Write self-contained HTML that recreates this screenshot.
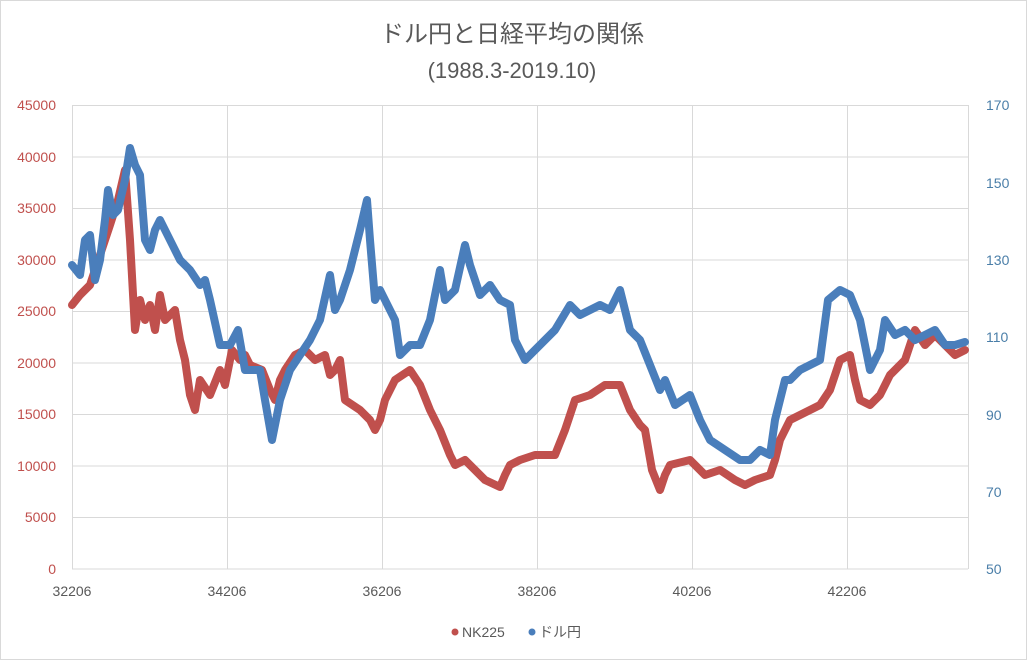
<!DOCTYPE html>
<html><head><meta charset="utf-8"><style>
body{margin:0;background:#fff;width:1027px;height:660px;overflow:hidden;font-family:"Liberation Sans","Noto Sans CJK JP",sans-serif}
</style></head><body>
<svg width="1027" height="660" xmlns="http://www.w3.org/2000/svg" style="font-family:'Liberation Sans','Noto Sans CJK JP',sans-serif">
<rect x="0.5" y="0.5" width="1026" height="659" fill="#fff" stroke="#d9d9d9"/>
<text x="512" y="42" text-anchor="middle" font-size="24" fill="#595959">ドル円と日経平均の関係</text>
<text x="512" y="78" text-anchor="middle" font-size="22" fill="#595959">(1988.3-2019.10)</text>
<g stroke="#d9d9d9" stroke-width="1">
<line x1="72" y1="105.5" x2="968" y2="105.5"/><line x1="72" y1="157" x2="968" y2="157"/><line x1="72" y1="208.5" x2="968" y2="208.5"/><line x1="72" y1="260" x2="968" y2="260"/><line x1="72" y1="311.5" x2="968" y2="311.5"/><line x1="72" y1="363" x2="968" y2="363"/><line x1="72" y1="414.5" x2="968" y2="414.5"/><line x1="72" y1="466" x2="968" y2="466"/><line x1="72" y1="517.5" x2="968" y2="517.5"/><line x1="72" y1="569" x2="968" y2="569"/>
<line x1="72.5" y1="105" x2="72.5" y2="569"/><line x1="227.5" y1="105" x2="227.5" y2="569"/><line x1="382.5" y1="105" x2="382.5" y2="569"/><line x1="537.5" y1="105" x2="537.5" y2="569"/><line x1="692.5" y1="105" x2="692.5" y2="569"/><line x1="847.5" y1="105" x2="847.5" y2="569"/><line x1="968.5" y1="105" x2="968.5" y2="569"/>
</g>
<g font-size="14" fill="#c0504d" text-anchor="end">
<text x="56" y="110">45000</text><text x="56" y="162">40000</text><text x="56" y="213">35000</text><text x="56" y="265">30000</text><text x="56" y="316">25000</text><text x="56" y="368">20000</text><text x="56" y="419">15000</text><text x="56" y="471">10000</text><text x="56" y="522">5000</text><text x="56" y="574">0</text>
</g>
<g font-size="14" fill="#4a7ea8">
<text x="986" y="110">170</text><text x="986" y="188">150</text><text x="986" y="265">130</text><text x="986" y="342">110</text><text x="986" y="420">90</text><text x="986" y="497">70</text><text x="986" y="574">50</text>
</g>
<g font-size="14" fill="#595959" text-anchor="middle">
<text x="72" y="596">32206</text><text x="227" y="596">34206</text><text x="382" y="596">36206</text><text x="537" y="596">38206</text><text x="692" y="596">40206</text><text x="847" y="596">42206</text>
</g>
<polyline fill="none" stroke="#c0504d" stroke-width="8" stroke-linejoin="round" stroke-linecap="round" points="72,305 80,295 90,285 100,255 110,225 118,200 125,170 130,240 135,330 140,300 145,320 150,305 155,330 160,295 165,320 175,310 180,340 185,360 190,395 195,410 200,380 210,395 220,370 225,385 232,350 240,360 245,355 250,365 262,370 270,390 275,400 280,380 285,370 295,355 305,350 315,360 325,355 330,375 335,370 340,360 345,400 360,410 370,420 375,430 380,420 385,400 395,380 410,370 420,385 430,410 440,430 450,455 455,465 465,460 470,465 485,480 500,487 505,475 510,465 520,460 535,455 555,455 565,430 575,400 590,395 605,385 620,385 630,410 640,425 645,430 652,470 660,490 665,475 670,465 690,460 705,475 720,470 735,480 745,485 755,480 770,475 775,460 780,440 790,420 800,415 810,410 820,405 830,390 840,360 850,355 855,380 860,400 870,405 880,395 890,375 905,360 915,330 925,345 935,335 945,345 955,355 965,350"/>
<polyline fill="none" stroke="#4a7ebb" stroke-width="8" stroke-linejoin="round" stroke-linecap="round" points="72,265 80,275 85,240 90,235 95,280 100,260 105,220 108,190 113,215 118,210 125,180 130,148 135,165 140,175 145,240 150,250 155,230 160,220 170,240 180,260 190,270 200,285 205,280 210,300 220,345 230,345 238,330 245,370 260,370 265,400 272,440 280,400 290,370 300,355 310,340 320,320 330,275 335,310 340,300 350,270 360,230 367,200 370,240 375,300 380,290 385,300 395,320 400,355 410,345 420,345 430,320 440,270 445,300 455,290 465,245 470,265 480,295 490,285 500,300 510,305 515,340 525,360 540,345 555,330 570,305 580,315 590,310 600,305 610,310 620,290 630,330 640,340 650,365 660,390 665,380 675,405 690,395 700,420 710,440 725,450 740,460 750,460 760,450 770,455 775,420 785,380 790,380 800,370 810,365 820,360 828,300 840,290 850,295 860,320 870,370 880,350 885,320 895,335 905,330 915,340 925,335 935,330 945,345 955,345 965,342"/>
<g font-size="14" fill="#595959">
<circle cx="455" cy="632" r="3.5" fill="#c0504d"/><text x="462" y="637">NK225</text>
<circle cx="532" cy="632" r="3.5" fill="#4a7ebb"/><text x="539" y="637">ドル円</text>
</g>
</svg>
</body></html>
